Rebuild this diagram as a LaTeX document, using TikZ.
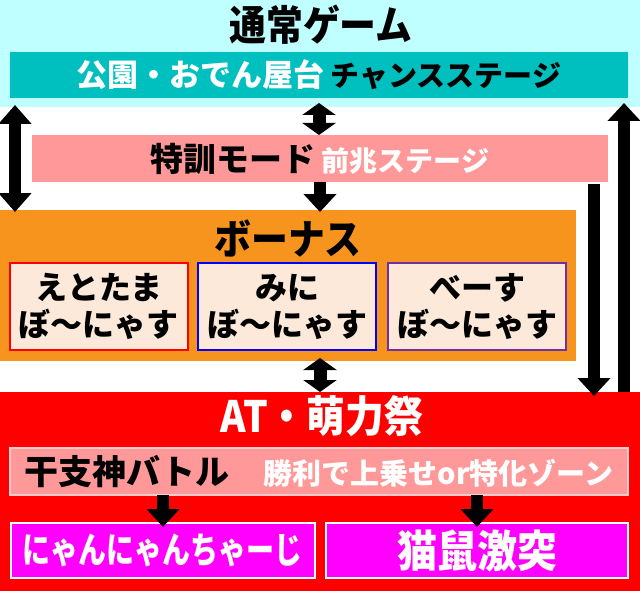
\documentclass[tikz,border=0pt]{standalone}
\usepackage{fontspec}
\setmainfont{Noto Sans CJK JP}[BoldFont={Noto Sans CJK JP Black}]
\usetikzlibrary{arrows.meta}
\definecolor{bgcyan}{RGB}{192,255,255}
\definecolor{tealbar}{RGB}{0,191,191}
\definecolor{pinkbar}{RGB}{255,153,153}
\definecolor{pinkedge}{RGB}{255,204,204}
\definecolor{orangebox}{RGB}{247,148,29}
\definecolor{peach}{RGB}{253,233,217}
\definecolor{purpleedge}{RGB}{112,48,160}
\definecolor{magentabox}{RGB}{255,0,255}
\newcommand{\fs}[1]{\fontsize{#1}{#1}\selectfont}
\begin{document}
\begin{tikzpicture}[x=1pt,y=-1pt,font=\bfseries,
  area/.style={inner sep=0pt,anchor=north west,outer sep=0pt},
  arr/.style={line width=12pt,-{Triangle[width=32pt,length=18pt]}},
  darr/.style={line width=12pt,{Triangle[width=32pt,length=19pt]}-{Triangle[width=32pt,length=19pt]}},
  shortdarr/.style={line width=13pt,{Triangle[width=33pt,length=12pt]}-{Triangle[width=33pt,length=12pt]}},
  subbox/.style={area,fill=peach,line width=2pt,minimum width=178pt,minimum height=87pt},
  subtext/.style={align=center,font=\bfseries\fontsize{32}{37}\selectfont},
  magbox/.style={area,fill=magentabox,draw=white,line width=2pt,minimum height=55pt,
    text=white}
]
\useasboundingbox (0,0) rectangle (640,591);
% regions
\node[area,fill=bgcyan,minimum width=640pt,minimum height=107pt] (normal) at (0,0) {};
\node[area,fill=orangebox,minimum width=576pt,minimum height=151pt] (bonus) at (0,210) {};
\node[area,fill=red,minimum width=640pt,minimum height=199pt] (at) at (0,392) {};
% titles
\node[font=\bfseries\fs{38}] (normaltitle) at (321,25) {\scalebox{0.97}[1.08]{通常ゲーム}};
\node[font=\bfseries\fs{38}] (bonustitle) at (288,238) {\scalebox{0.97}[1.08]{ボーナス}};
\node[font=\bfseries\fs{40},text=white] (attitle) at (322,416) {\scalebox{0.97}[1.08]{AT・萌力祭}};
% bars
\node[area,fill=tealbar,minimum width=618pt,minimum height=46pt] (chance) at (10,52) {};
\node[font=\bfseries\fs{31}] (chancetext) at (chance.center)
  {\textcolor{white}{公園・おでん屋台}\hspace{6pt}\fs{29}チャンスステージ};
\node[area,fill=pinkbar,minimum width=576pt,minimum height=47pt] (tokkun) at (32,135) {};
\node[font=\bfseries\fs{33}] (tokkuntext) at (tokkun.center)
  {特訓モード\hspace{6pt}\textcolor{white}{\fs{28}前兆ステージ}};
% sub boxes
\node[subbox,draw=red] (eto) at (10,263) {};
\node[subtext] (etotext) at (eto.center) {えとたま\\ぼ〜にゃす};
\node[subbox,draw=blue] (mini) at (198,263) {};
\node[subtext] (minitext) at (mini.center) {みに\\ぼ〜にゃす};
\node[subbox,draw=purpleedge] (base) at (388,263) {};
\node[subtext] (basetext) at (base.center) {べーす\\ぼ〜にゃす};
% AT contents
\node[area,fill=pinkbar,draw=pinkedge,line width=2pt,minimum width=618pt,minimum height=47pt] (battle) at (10,448) {};
\node[font=\bfseries\fs{34}] (battletext) at (battle.center)
  {干支神バトル\hspace{34pt}\textcolor{white}{\fs{29}勝利で上乗せor特化ゾーン}};
\node[magbox,minimum width=304pt] (nyan) at (11,523) {};
\node[font=\bfseries\fs{28},text=white] (nyantext) at (nyan.center) {\scalebox{1}[1.3]{にゃんにゃんちゃーじ}};
\node[magbox,minimum width=302pt] (neko) at (326,523) {};
\node[font=\bfseries\fs{40},text=white] (nekotext) at (neko.center) {\scalebox{1}[1.1]{猫鼠激突}};
% connectors
\coordinate (lx) at (15,0);
\coordinate (rx) at (594,0);
\coordinate (ux) at (624,0);
\draw[darr,shorten <=-2pt,shorten >=-2pt] (normal.south -| lx) -- (bonus.north -| lx);
\draw[shortdarr,shorten <=5pt] (chance.south) -- (chance.south |- tokkun.north);
\draw[arr,shorten >=-2pt] (tokkun.south) -- (tokkun.south |- bonus.north);
\draw[shortdarr,shorten <=-3pt] (at.north |- bonus.south) -- (at.north);
\draw[arr,shorten <=2pt,shorten >=-4pt] (tokkun.south -| rx) -- (at.north -| rx);
\draw[arr,shorten >=-4pt] (at.north -| ux) -- (normal.south -| ux);
\draw[arr,shorten >=-4pt] (battle.south -| nyan.north) -- (nyan.north);
\draw[arr,shorten >=-4pt] (battle.south -| neko.north) -- (neko.north);
\end{tikzpicture}
\end{document}
